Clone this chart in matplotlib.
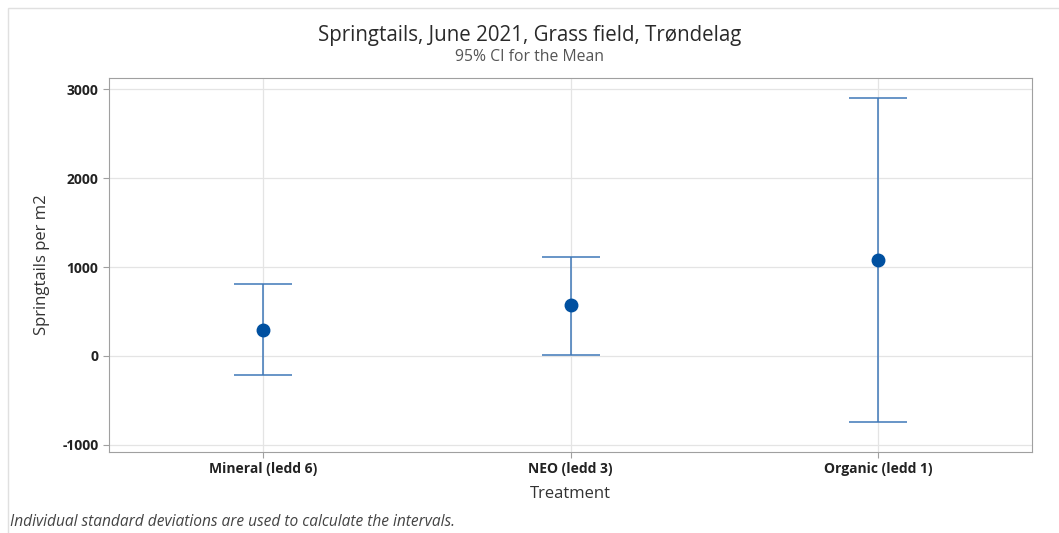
import matplotlib
matplotlib.use('Agg')
import matplotlib.pyplot as plt
from matplotlib.patches import Rectangle

# values
treatments = ['Mineral (ledd 6)', 'NEO (ledd 3)', 'Organic (ledd 1)']
means = [295, 568, 1082]
lower = [-213, 15, -742]
upper = [807, 1117, 2902]
yticks = [-1000, 0, 1000, 2000, 3000]

plt.rcParams['font.family'] = ['Open Sans', 'DejaVu Sans']

fig = plt.figure(figsize=(10.59, 5.33), dpi=100)
ax = fig.add_axes([109 / 1059, 1 - 452 / 533, 923 / 1059, 374 / 533])

x = list(range(len(treatments)))
err_lo = [m - l for m, l in zip(means, lower)]
err_hi = [u - m for m, u in zip(means, upper)]
ax.errorbar(x, means, yerr=[err_lo, err_hi], fmt='none', ecolor='#3f78b8',
            elinewidth=1.1, capsize=21, capthick=1.1, zorder=3)
ax.plot(x, means, 'o', color='#0050a0', markersize=9, zorder=4)

ax.set_xlim(-0.5, 2.5)
ax.set_ylim(-1079, 3124)
ax.set_xticks(x)
ax.set_xticklabels(treatments, fontweight='bold', fontsize=10)
ax.set_yticks(yticks)
ax.set_yticklabels([str(t) for t in yticks], fontweight='bold', fontsize=10)
ax.grid(True, color='#e4e4e4', linewidth=0.9)
ax.set_axisbelow(True)
for s in ax.spines.values():
    s.set_color('#a0a0a0')
ax.tick_params(colors='#a0a0a0', labelcolor='#222222', length=4)

ax.set_xlabel('Treatment', fontsize=12, color='#333333', labelpad=7)
ax.set_ylabel('Springtails per m2', fontsize=12, color='#333333', labelpad=9)

fig.text(0.5, 1 - 35 / 533, 'Springtails, June 2021, Grass field, Trøndelag',
         ha='center', va='center', fontsize=14.8, color='#2a2a2a')
fig.text(0.5, 1 - 57 / 533, '95% CI for the Mean', ha='center', va='center',
         fontsize=11.3, color='#555555')
fig.text(10 / 1059, 1 - 522 / 533,
         'Individual standard deviations are used to calculate the intervals.',
         ha='left', va='center', fontsize=11.2, style='italic', color='#444444')

# thin frame around the chart area
fig.patches.append(Rectangle((8 / 1059, -0.01), 1.0, 1 - 8 / 533 + 0.01,
                             transform=fig.transFigure, fill=False,
                             edgecolor='#e0e0e0', linewidth=1))

plt.savefig('out.png', dpi=100)
plt.close(fig)
